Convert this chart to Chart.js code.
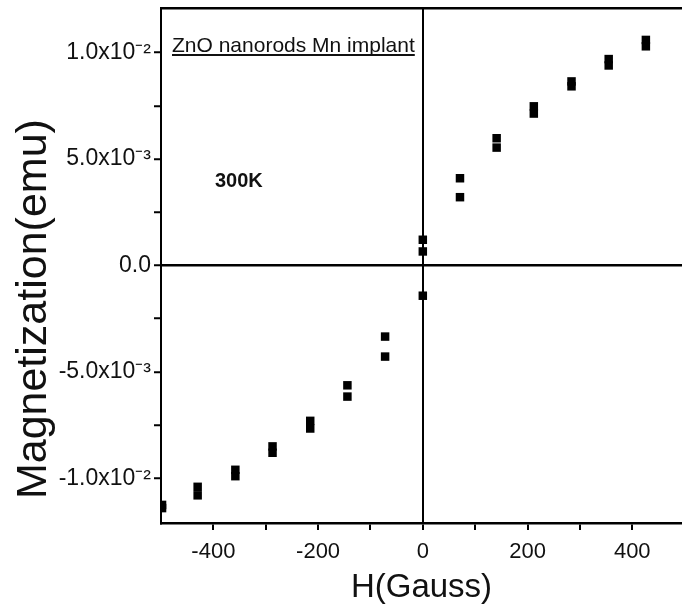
<!DOCTYPE html>
<html>
<head>
<meta charset="utf-8">
<script src="https://cdn.jsdelivr.net/npm/chart.js@4.4.1/dist/chart.umd.min.js"></script>
<style>
  html, body { margin: 0; padding: 0; background: #fff; overflow: hidden; }
  #wrap { width: 682px; height: 613px; }
</style>
</head>
<body>
<div id="wrap"><canvas id="mh_chart" width="682" height="613"></canvas></div>
<script>
// field (Gauss) and magnetization (emu)
const hSweepDown = [426, 355, 284, 212, 141, 71, 0, 0, -72, -144, -215, -287, -358, -430, -498];
const mSweepDown = [10.6e-3, 9.7e-3, 8.65e-3, 7.48e-3, 5.98e-3, 4.10e-3, 1.21e-3, 0.66e-3,
                    -3.34e-3, -5.63e-3, -7.30e-3, -8.50e-3, -9.60e-3, -10.40e-3, -11.25e-3];

const hSweepUp = [-498, -430, -358, -287, -215, -144, -72, 0, 71, 141, 212, 284, 355, 426];
const mSweepUp = [-11.40e-3, -10.80e-3, -9.90e-3, -8.80e-3, -7.66e-3, -6.16e-3, -4.28e-3, -1.42e-3,
                  3.21e-3, 5.54e-3, 7.14e-3, 8.42e-3, 9.40e-3, 10.30e-3];

// tick marks (major + minor) and the labelled ones
const xTickMarks = [-400, -300, -200, -100, 0, 100, 200, 300, 400];
const xTickValues = [-400, -200, 0, 200, 400];
const xTickLabels = ['-400', '-200', '0', '200', '400'];

const yTickMarks = [-0.01, -0.0075, -0.005, -0.0025, 0, 0.0025, 0.005, 0.0075, 0.01];
const yTickValues = [-0.01, -0.005, 0, 0.005, 0.01];
const yTickLabels = ['-1.0x10\u207B\u00B2', '-5.0x10\u207B\u00B3', '0.0', '5.0x10\u207B\u00B3', '1.0x10\u207B\u00B2'];

const sampleLabel = 'ZnO nanorods Mn implant';
const tempLabel = '300K';

const textFamily = '"Liberation Sans", Arial, sans-serif';

function toPoints(xs, ys) {
    return xs.map((x, i) => ({ x: x, y: ys[i] }));
}

function near(a, b, eps) {
    return Math.abs(a - b) < eps;
}

// sample name + temperature written inside the plot
const notesPlugin = {
    id: 'notes',
    afterDatasetsDraw(chart) {
        const ctx = chart.ctx;
        const area = chart.chartArea;
        ctx.save();
        ctx.fillStyle = '#111';
        ctx.textBaseline = 'alphabetic';
        ctx.textAlign = 'left';

        ctx.font = '21px ' + textFamily;
        let x0 = area.left + 11;
        let y0 = area.top + 44;
        ctx.fillText(sampleLabel, x0, y0);
        let w = ctx.measureText(sampleLabel).width;
        ctx.fillRect(x0, y0 + 2, w, 2);

        ctx.font = 'bold 20px ' + textFamily;
        ctx.fillText(tempLabel, area.left + 54, area.top + 179);
        ctx.restore();
    }
};

const ctx = document.getElementById('mh_chart').getContext('2d');

const config = {
    type: 'scatter',
    data: {
        datasets: [
            {
                label: 'sweep down',
                data: toPoints(hSweepDown, mSweepDown),
                pointStyle: 'rect',
                pointRadius: 6,
                backgroundColor: '#000',
                borderColor: '#000',
                borderWidth: 0
            },
            {
                label: 'sweep up',
                data: toPoints(hSweepUp, mSweepUp),
                pointStyle: 'rect',
                pointRadius: 6,
                backgroundColor: '#000',
                borderColor: '#000',
                borderWidth: 0
            }
        ]
    },
    options: {
        responsive: false,
        animation: false,
        layout: { autoPadding: false, padding: { top: 8, left: 0, right: 0, bottom: 0 } },
        plugins: {
            legend: { display: false },
            tooltip: { enabled: false }
        },
        scales: {
            x: {
                type: 'linear',
                position: 'bottom',
                min: -500,
                max: 495,
                afterBuildTicks: (axis) => {
                    axis.ticks = xTickMarks.map((v) => ({ value: v }));
                },
                border: { display: true, color: '#000', width: 2.5 },
                grid: {
                    drawOnChartArea: true,
                    drawTicks: true,
                    tickLength: 7,
                    lineWidth: 2,
                    color: (c) => (c.tick && c.tick.value === 0) ? '#000' : 'rgba(0,0,0,0)',
                    tickColor: '#000',
                    tickWidth: 2
                },
                ticks: {
                    autoSkip: false,
                    maxRotation: 0,
                    padding: 9,
                    color: '#111',
                    font: { family: textFamily, size: 22 },
                    callback: (v) => {
                        const i = xTickValues.indexOf(v);
                        return i >= 0 ? xTickLabels[i] : '';
                    }
                },
                title: {
                    display: true,
                    text: 'H(Gauss)',
                    color: '#111',
                    font: { family: textFamily, size: 33, lineHeight: 1.2 },
                    padding: { top: 0, bottom: 5 }
                },
                afterFit: (axis) => {
                    axis.height = 90;
                    axis.paddingLeft = 0;
                    axis.paddingRight = 0;
                }
            },
            xTop: {
                type: 'linear',
                position: 'top',
                min: -500,
                max: 495,
                border: { display: true, color: '#000', width: 2.5 },
                grid: { display: false, drawTicks: false },
                ticks: { display: false },
                afterFit: (axis) => {
                    axis.height = 0;
                    axis.paddingLeft = 0;
                    axis.paddingRight = 0;
                }
            },
            y: {
                type: 'linear',
                position: 'left',
                min: -0.0121,
                max: 0.0121,
                afterBuildTicks: (axis) => {
                    axis.ticks = yTickMarks.map((v) => ({ value: v }));
                },
                border: { display: true, color: '#000', width: 2 },
                grid: {
                    drawOnChartArea: true,
                    drawTicks: true,
                    tickLength: 7,
                    lineWidth: 2.5,
                    color: (c) => (c.tick && c.tick.value === 0) ? '#000' : 'rgba(0,0,0,0)',
                    tickColor: '#000',
                    tickWidth: 2
                },
                ticks: {
                    autoSkip: false,
                    padding: 3,
                    color: '#111',
                    font: { family: textFamily, size: 23 },
                    callback: (v) => {
                        const i = yTickValues.findIndex((t) => near(t, v, 1e-7));
                        return i >= 0 ? yTickLabels[i] : '';
                    }
                },
                title: {
                    display: true,
                    text: '  Magnetization(emu)',
                    align: 'start',
                    color: '#111',
                    font: { family: textFamily, size: 43, lineHeight: 1.2 },
                    padding: { top: 8, bottom: 0 }
                },
                afterFit: (axis) => {
                    axis.width = 161;
                    axis.paddingTop = 0;
                    axis.paddingBottom = 0;
                }
            }
        }
    },
    plugins: [notesPlugin]
};

const chart = new Chart(ctx, config);
</script>
</body>
</html>
